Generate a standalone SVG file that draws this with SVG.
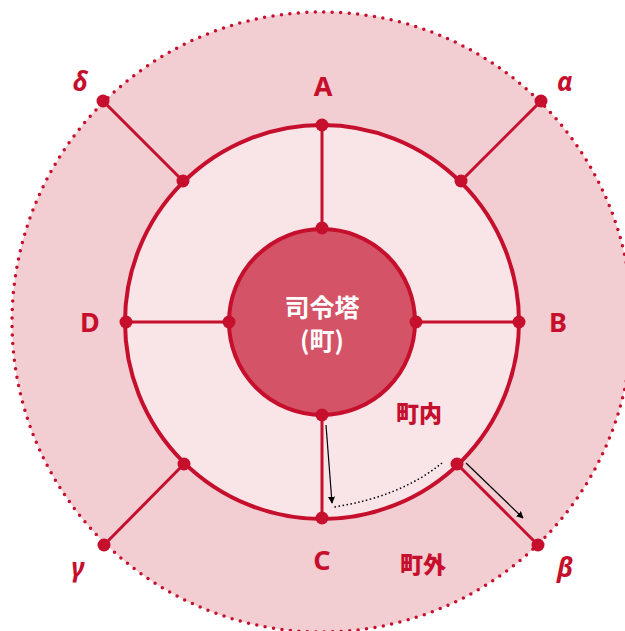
<svg xmlns="http://www.w3.org/2000/svg" width="625" height="631" viewBox="0 0 625 631">
<style>
.ln{stroke:#C50F2C;stroke-width:3;fill:none}
.dot{fill:#C50F2C}
.lbl{font-family:"Noto Sans","Liberation Sans",sans-serif;font-weight:bold;font-size:27px;fill:#C50F2C;text-anchor:middle}
.gk{font-family:"Noto Sans","Liberation Sans",sans-serif;font-weight:bold;font-style:italic;font-size:26px;fill:#C50F2C;text-anchor:middle}
.jp{font-family:"Noto Sans CJK JP","Noto Sans CJK SC",sans-serif;font-weight:900;font-size:23px;fill:#C50F2C;text-anchor:middle}
.ctr{font-family:"Noto Sans CJK JP","Noto Sans CJK SC",sans-serif;font-weight:bold;font-size:25px;fill:#FFFFFF;text-anchor:middle}
.ar{stroke:#000;stroke-width:1.2;fill:none}
</style>
<defs>
<marker id="ah" viewBox="0 0 10 10" refX="9" refY="5" markerWidth="7" markerHeight="7" orient="auto" markerUnits="userSpaceOnUse">
<path d="M0,0 L10,5 L0,10 z" fill="#000"/>
</marker>
</defs>
<g id="outer">
<circle cx="322" cy="322" r="310" fill="#F2CDD2"/>
<circle cx="322" cy="322" r="310" fill="none" stroke="#C50F2C" stroke-width="3.5" stroke-linecap="round" stroke-dasharray="0 8.5"/>
</g>
<g id="middle">
<circle cx="322" cy="322" r="197" style="fill:#F9E5E8;stroke:#C50F2C;stroke-width:4"/>
</g>
<g id="connectors">
<line class="ln" x1="322" y1="125" x2="322" y2="228"/>
<line class="ln" x1="322" y1="416" x2="322" y2="519"/>
<line class="ln" x1="126" y1="322" x2="229" y2="322"/>
<line class="ln" x1="416" y1="322" x2="519" y2="322"/>
<line class="ln" x1="103" y1="101" x2="183" y2="181"/>
<line class="ln" x1="541" y1="101" x2="461" y2="181"/>
<line class="ln" x1="104" y1="545" x2="184" y2="464"/>
<line class="ln" x1="538" y1="545" x2="457" y2="464"/>
</g>
<g id="center">
<circle cx="322" cy="322" r="93" fill="#D55366" stroke="#C50F2C" stroke-width="4"/>
<text class="ctr" x="322" y="317">司令塔</text>
<text class="ctr" x="322" y="350">(町)</text>
</g>
<g id="dots">
<circle class="dot" cx="322" cy="125" r="6.5"/>
<circle class="dot" cx="322" cy="228" r="6.5"/>
<circle class="dot" cx="322" cy="415" r="6.5"/>
<circle class="dot" cx="322" cy="518" r="6.5"/>
<circle class="dot" cx="126" cy="322" r="6.5"/>
<circle class="dot" cx="229" cy="322" r="6.5"/>
<circle class="dot" cx="416" cy="322" r="6.5"/>
<circle class="dot" cx="519" cy="322" r="6.5"/>
<circle class="dot" cx="183" cy="181" r="6.5"/>
<circle class="dot" cx="461" cy="181" r="6.5"/>
<circle class="dot" cx="184" cy="464" r="6.5"/>
<circle class="dot" cx="457" cy="464" r="6.5"/>
<circle class="dot" cx="103" cy="101" r="6.5"/>
<circle class="dot" cx="541" cy="101" r="6.5"/>
<circle class="dot" cx="104" cy="545" r="6.5"/>
<circle class="dot" cx="538" cy="545" r="6.5"/>
</g>
<g id="labels">
<text class="lbl" x="323" y="96">A</text>
<text class="lbl" x="558" y="332">B</text>
<text class="lbl" x="322" y="570">C</text>
<text class="lbl" x="90" y="332">D</text>
<text class="gk" x="565" y="91">α</text>
<text class="gk" x="565" y="577">β</text>
<text class="gk" x="78" y="577">γ</text>
<text class="gk" x="80" y="91">δ</text>
<text class="jp" x="419" y="422">町内</text>
<text class="jp" x="423" y="573">町外</text>
</g>
<g id="arrows">
<line class="ar" x1="326" y1="425" x2="332" y2="503" marker-end="url(#ah)"/>
<path d="M442,463 Q400,497 334,507" fill="none" stroke="#000" stroke-width="1.5" stroke-dasharray="1.5 2.5"/>
<line class="ar" x1="466" y1="463" x2="523" y2="518" marker-end="url(#ah)"/>
</g>
</svg>
